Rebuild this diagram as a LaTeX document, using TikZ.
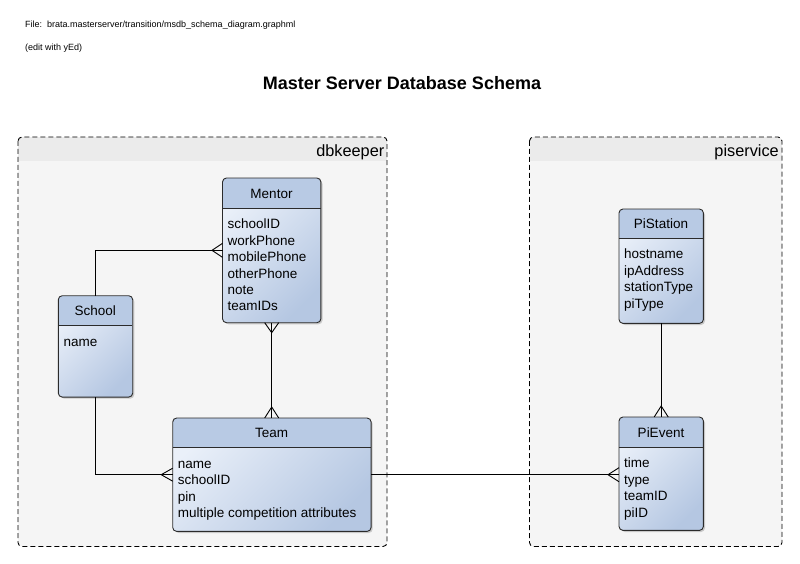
\documentclass[tikz,border=0pt]{standalone}
\usepackage{fontspec}
\setmainfont{Liberation Sans}
\usetikzlibrary{calc}
\definecolor{grpfill}{HTML}{F5F5F5}
\definecolor{grphead}{HTML}{EBEBEB}
\definecolor{hdr}{HTML}{B8CAE4}
\definecolor{bodylight}{HTML}{EAF0F9}
\definecolor{bodydark}{HTML}{B5C7E2}
\definecolor{edge}{HTML}{2B2B2B}
\tikzset{
  grpbox/.style={draw=black, line width=0.9pt, dash pattern=on 5pt off 3pt, rounded corners=4pt},
  ebody/.style={inner sep=0pt, rounded corners=4pt, top color=bodylight, bottom color=bodydark, shading angle=45},
  eborder/.style={draw=edge, line width=0.9pt, rounded corners=4pt},
  attr/.style={anchor=base west, inner sep=0pt, font=\fontsize{13.5}{16}\selectfont},
  etitle/.style={anchor=base, inner sep=0pt, font=\fontsize{13.5}{16}\selectfont},
  grplabel/.style={anchor=base east, inner sep=0pt, font=\fontsize{16.3}{19}\selectfont},
  conn/.style={draw=black, line width=0.9pt},
}
% \erentity{name}{title}{left}{top}{right}{headerline}{bottom}{attrs}
\newcommand\erentity[8]{%
  \fill[black, opacity=0.18, rounded corners=4pt] (#3+2,#4+2) rectangle (#5+2,#7+2);
  \node[ebody, minimum width=#5-#3, minimum height=#7-#4, anchor=north west] (#1) at (#3,#4) {};
  \begin{scope}
    \clip[rounded corners=4pt] (#3,#4) rectangle (#5,#7);
    \fill[hdr] (#3,#4) rectangle (#5,#6);
  \end{scope}
  \draw[draw=edge, line width=0.9pt] (#3,#6) -- (#5,#6);
  \draw[eborder] (#1.north west) rectangle (#1.south east);
  \node[etitle] (#1-title) at ({(#3+#5)/2},#6-10) {#2};
  \foreach \a [count=\i] in {#8} {
    \node[attr] (#1-a\i) at (#3+5,#6+20.6+16.4*\i-16.4) {\a};
  }%
}
\begin{document}
\begin{tikzpicture}[x=1pt,y=-1pt]
\useasboundingbox (0,0) rectangle (800,564);
\fill[white] (0,0) rectangle (800,564);

% header texts
\node[anchor=base west, inner sep=0pt, font=\fontsize{9}{11}\selectfont] (file) at (25,28) {File:\ \ brata.masterserver/transition/msdb\_schema\_diagram.graphml};
\node[anchor=base west, inner sep=0pt, font=\fontsize{9}{11}\selectfont] (edit) at (25,51) {(edit with yEd)};
\node[anchor=base, inner sep=0pt, font=\bfseries\fontsize{18}{21}\selectfont] (title) at (402,89.5) {Master Server Database Schema};

% groups
\begin{scope}
  \clip[rounded corners=4pt] (18,137) rectangle (387,546.5);
  \fill[grpfill] (18,137) rectangle (387,546.5);
  \fill[grphead] (18,137) rectangle (387,161.5);
\end{scope}
\draw[grpbox] (18,137) rectangle (387,546.5);
\node[grplabel] (dbk) at (384.5,157) {dbkeeper};

\begin{scope}
  \clip[rounded corners=4pt] (529.5,137) rectangle (782,546.5);
  \fill[grpfill] (529.5,137) rectangle (782,546.5);
  \fill[grphead] (529.5,137) rectangle (782,161.5);
\end{scope}
\draw[grpbox] (529.5,137) rectangle (782,546.5);
\node[grplabel] (pis) at (779,157) {piservice};

% entities
\erentity{mentor}{Mentor}{222.5}{178}{320.5}{208.3}{322.3}{schoolID,workPhone,mobilePhone,otherPhone,note,teamIDs}
\erentity{school}{School}{58.3}{295.7}{132.3}{325.5}{396.7}{name}
\erentity{team}{Team}{172.7}{418}{370.7}{447.7}{531}{name,schoolID,pin,multiple competition attributes}
\erentity{pistation}{PiStation}{619}{209}{703}{238.3}{323}{hostname,ipAddress,stationType,piType}
\erentity{pievent}{PiEvent}{619}{417}{703}{447.3}{530}{time,type,teamID,piID}

% connectors
\draw[conn] (school.north) |- (mentor.west);
\draw[conn] ($(mentor.west)+(0,-7)$) -- ($(mentor.west)+(-10.5,0)$) -- ($(mentor.west)+(0,7)$);

\draw[conn] (school.south) |- (team.west);
\draw[conn] ($(team.west)+(0,-6.5)$) -- ($(team.west)+(-11.5,0)$) -- ($(team.west)+(0,6.5)$);

\draw[conn] (mentor.south) -- (mentor.south |- team.north);
\draw[conn] ($(mentor.south)+(-7,0)$) -- ($(mentor.south)+(0,10)$) -- ($(mentor.south)+(7,0)$);
\draw[conn] ($(mentor.south |- team.north)+(-7,0)$) -- ($(mentor.south |- team.north)+(0,-11)$) -- ($(mentor.south |- team.north)+(7,0)$);

\draw[conn] (team.east) -- (team.east -| pievent.west);
\draw[conn] ($(team.east -| pievent.west)+(0,-7)$) -- ($(team.east -| pievent.west)+(-11,0)$) -- ($(team.east -| pievent.west)+(0,7)$);

\draw[conn] (pistation.south) -- (pievent.north);
\draw[conn] ($(pievent.north)+(-7,0)$) -- ($(pievent.north)+(0,-11)$) -- ($(pievent.north)+(7,0)$);
\end{tikzpicture}
\end{document}
